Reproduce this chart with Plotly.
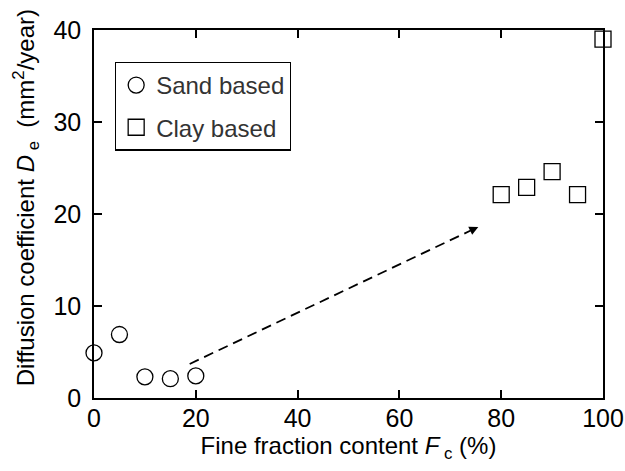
import plotly.graph_objects as go

# Fine fraction content (%) and diffusion coefficient (mm^2/year)
sand_fc = [0, 5, 10, 15, 20]
sand_de = [4.9, 6.9, 2.3, 2.1, 2.4]
clay_fc = [80, 85, 90, 95, 100]
clay_de = [22.1, 22.9, 24.6, 22.1, 39.0]

x_ticks = [0, 20, 40, 60, 80, 100]
y_ticks = [0, 10, 20, 30, 40]

FONT = "Liberation Sans, Arial, Helvetica, sans-serif"

fig = go.Figure()
fig.add_trace(go.Scatter(
    x=sand_fc, y=sand_de, mode="markers", name="Sand based",
    marker=dict(symbol="circle-open", size=16, color="black", line=dict(width=1.3)),
    cliponaxis=False, legendgroup="a",
))
fig.add_trace(go.Scatter(
    x=clay_fc, y=clay_de, mode="markers", name="Clay based",
    marker=dict(symbol="square-open", size=16, color="black", line=dict(width=1.3)),
    cliponaxis=False, legendgroup="b",
))

# Dashed trend line with a small arrowhead at its end
fig.add_shape(type="line", x0=18.8, y0=3.7, x1=74.0, y1=18.2, xref="x", yref="y",
              line=dict(color="black", width=1.8, dash="10px,6px"))
fig.add_annotation(
    x=75.5, y=18.6, ax=73.9, ay=18.17, xref="x", yref="y", axref="x", ayref="y",
    showarrow=True, arrowhead=2, arrowsize=1.0, arrowwidth=1.8, arrowcolor="black", text="",
)

# Y-axis title, placed as a rotated label left of the tick labels
fig.add_annotation(
    text="Diffusion coefficient <i>D</i><sub> e</sub>  (mm<sup>2</sup>/year)",
    xref="paper", yref="paper", x=-0.132, y=0.545, xanchor="center", yanchor="middle",
    textangle=-90, showarrow=False, font=dict(family=FONT, size=24, color="black"),
)

axis_common = dict(
    showline=True, linecolor="black", linewidth=1.5, mirror="ticks",
    ticks="inside", ticklen=8, tickwidth=1.5, tickcolor="black",
    showgrid=False, zeroline=False, automargin=False,
    tickfont=dict(family=FONT, size=25, color="black"),
)

fig.update_xaxes(
    range=[0, 100], tickvals=x_ticks, ticklabelstandoff=-3,
    title=dict(text="Fine fraction content <i>F</i><sub> c</sub> (%)",
               font=dict(family=FONT, size=24, color="black"), standoff=4),
    **axis_common,
)
fig.update_yaxes(
    range=[0, 40], tickvals=y_ticks, ticklabelstandoff=6,
    **axis_common,
)

fig.update_layout(
    width=625, height=471,
    margin=dict(l=94, r=22, t=30, b=73),
    paper_bgcolor="white", plot_bgcolor="white",
    font=dict(family=FONT),
    showlegend=True,
    legend=dict(
        x=0.041, y=0.914, xanchor="left", yanchor="top",
        bgcolor="white", bordercolor="black", borderwidth=1.3,
        font=dict(family=FONT, size=24, color="#333333"),
        tracegroupgap=8, itemwidth=30,
    ),
)

fig.write_html("out.html")
